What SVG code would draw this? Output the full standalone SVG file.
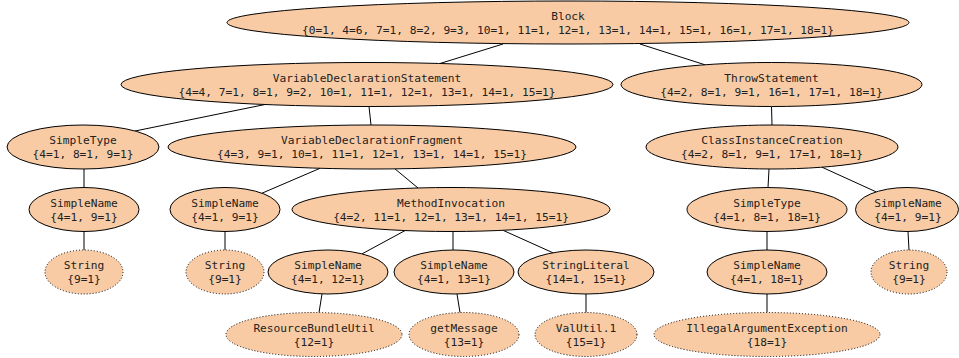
<svg xmlns="http://www.w3.org/2000/svg" width="959" height="358" viewBox="0 0 959 358">
<style>
.n ellipse{fill:#f9cba4;stroke:#000;stroke-width:1}
.leaf ellipse{stroke-dasharray:1,2}
text{font-family:"DejaVu Sans Mono","Liberation Mono",monospace;font-size:11.2px;fill:#222;text-anchor:middle}
#edges line{stroke:#000;stroke-width:1}
</style>
<rect width="959" height="358" fill="#fff"/>
<g id="edges">
<line x1="503" y1="44" x2="440" y2="63.5"/>
<line x1="640" y1="44" x2="705" y2="64.8"/>
<line x1="265" y1="104.5" x2="135" y2="131"/>
<line x1="369" y1="106.5" x2="371" y2="125"/>
<line x1="771.5" y1="106.5" x2="772" y2="125"/>
<line x1="84" y1="169" x2="84" y2="187.5"/>
<line x1="320" y1="168.3" x2="262" y2="193.2"/>
<line x1="395" y1="168.9" x2="418" y2="188"/>
<line x1="769" y1="169" x2="768" y2="187.5"/>
<line x1="822" y1="167.2" x2="876" y2="191.8"/>
<line x1="84" y1="231.5" x2="84" y2="250"/>
<line x1="225" y1="231.5" x2="225" y2="250"/>
<line x1="405" y1="230.6" x2="362" y2="253.9"/>
<line x1="453" y1="231.5" x2="453" y2="250"/>
<line x1="503" y1="230.3" x2="553" y2="252.8"/>
<line x1="767" y1="231.5" x2="767" y2="250"/>
<line x1="908" y1="231.5" x2="909" y2="250"/>
<line x1="322" y1="294" x2="319" y2="312.5"/>
<line x1="457" y1="294" x2="460" y2="312.6"/>
<line x1="586" y1="294" x2="586" y2="312.5"/>
<line x1="767" y1="294" x2="767" y2="312.5"/>
</g>
<g id="block" class="n"><ellipse cx="568" cy="22.5" rx="341" ry="21.5"/><text x="568" y="19.5">Block</text><text x="568" y="33.5">{0=1, 4=6, 7=1, 8=2, 9=3, 10=1, 11=1, 12=1, 13=1, 14=1, 15=1, 16=1, 17=1, 18=1}</text></g>
<g id="vds" class="n"><ellipse cx="367" cy="84.5" rx="246" ry="22"/><text x="367" y="81.5">VariableDeclarationStatement</text><text x="367" y="95.5">{4=4, 7=1, 8=1, 9=2, 10=1, 11=1, 12=1, 13=1, 14=1, 15=1}</text></g>
<g id="throw" class="n"><ellipse cx="771.5" cy="84.5" rx="150.5" ry="22"/><text x="771.5" y="81.5">ThrowStatement</text><text x="771.5" y="95.5">{4=2, 8=1, 9=1, 16=1, 17=1, 18=1}</text></g>
<g id="simpletype1" class="n"><ellipse cx="83" cy="147" rx="76" ry="22"/><text x="83" y="144">SimpleType</text><text x="83" y="158">{4=1, 8=1, 9=1}</text></g>
<g id="vdf" class="n"><ellipse cx="372" cy="147" rx="204" ry="22"/><text x="372" y="144">VariableDeclarationFragment</text><text x="372" y="158">{4=3, 9=1, 10=1, 11=1, 12=1, 13=1, 14=1, 15=1}</text></g>
<g id="cic" class="n"><ellipse cx="772" cy="147" rx="126" ry="22"/><text x="772" y="144">ClassInstanceCreation</text><text x="772" y="158">{4=2, 8=1, 9=1, 17=1, 18=1}</text></g>
<g id="simplename1" class="n"><ellipse cx="84" cy="209.5" rx="55" ry="22"/><text x="84" y="206.5">SimpleName</text><text x="84" y="220.5">{4=1, 9=1}</text></g>
<g id="simplename2" class="n"><ellipse cx="225" cy="209.5" rx="55" ry="22"/><text x="225" y="206.5">SimpleName</text><text x="225" y="220.5">{4=1, 9=1}</text></g>
<g id="mi" class="n"><ellipse cx="451" cy="209.5" rx="159" ry="22"/><text x="451" y="206.5">MethodInvocation</text><text x="451" y="220.5">{4=2, 11=1, 12=1, 13=1, 14=1, 15=1}</text></g>
<g id="simpletype2" class="n"><ellipse cx="767" cy="209.5" rx="80" ry="22"/><text x="767" y="206.5">SimpleType</text><text x="767" y="220.5">{4=1, 8=1, 18=1}</text></g>
<g id="simplename3" class="n"><ellipse cx="907" cy="209.5" rx="51.5" ry="22"/><text x="908" y="206.5">SimpleName</text><text x="908" y="220.5">{4=1, 9=1}</text></g>
<g id="string1" class="n leaf"><ellipse cx="84" cy="272" rx="39" ry="22"/><text x="84" y="269">String</text><text x="84" y="283">{9=1}</text></g>
<g id="string2" class="n leaf"><ellipse cx="225" cy="272" rx="39" ry="22"/><text x="225" y="269">String</text><text x="225" y="283">{9=1}</text></g>
<g id="simplename4" class="n"><ellipse cx="328" cy="272" rx="60" ry="22"/><text x="328" y="269">SimpleName</text><text x="328" y="283">{4=1, 12=1}</text></g>
<g id="simplename5" class="n"><ellipse cx="454" cy="272" rx="60" ry="22"/><text x="454" y="269">SimpleName</text><text x="454" y="283">{4=1, 13=1}</text></g>
<g id="stringliteral" class="n"><ellipse cx="586" cy="272" rx="68" ry="22"/><text x="586" y="269">StringLiteral</text><text x="586" y="283">{14=1, 15=1}</text></g>
<g id="simplename6" class="n"><ellipse cx="767" cy="272" rx="60" ry="22"/><text x="767" y="269">SimpleName</text><text x="767" y="283">{4=1, 18=1}</text></g>
<g id="string3" class="n leaf"><ellipse cx="909" cy="272" rx="38" ry="22"/><text x="909" y="269">String</text><text x="909" y="283">{9=1}</text></g>
<g id="rbu" class="n leaf"><ellipse cx="314" cy="334.5" rx="88" ry="22"/><text x="314" y="331.5">ResourceBundleUtil</text><text x="314" y="345.5">{12=1}</text></g>
<g id="getmessage" class="n leaf"><ellipse cx="464" cy="334.5" rx="55" ry="22"/><text x="464" y="331.5">getMessage</text><text x="464" y="345.5">{13=1}</text></g>
<g id="valutil" class="n leaf"><ellipse cx="586" cy="334.5" rx="51" ry="22"/><text x="586" y="331.5">ValUtil.1</text><text x="586" y="345.5">{15=1}</text></g>
<g id="iae" class="n leaf"><ellipse cx="767" cy="334.5" rx="113" ry="22"/><text x="767" y="331.5">IllegalArgumentException</text><text x="767" y="345.5">{18=1}</text></g>
</svg>
